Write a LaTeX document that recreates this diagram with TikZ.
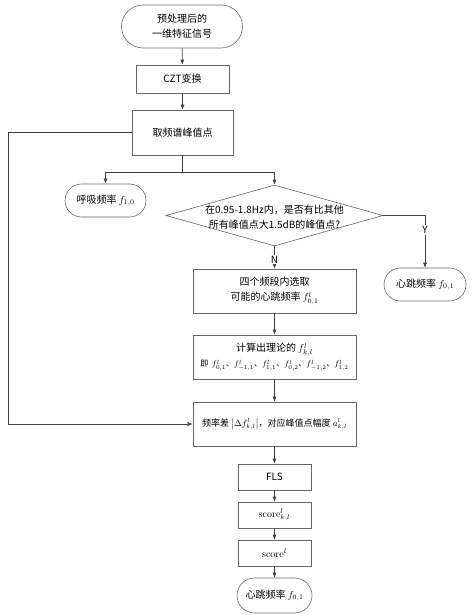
\documentclass[tikz,border=0pt]{standalone}
\usepackage{amsmath}
\usepackage{fontspec}
\newfontfamily\cjk{Noto Sans CJK SC}
\usetikzlibrary{shapes.misc,shapes.geometric,arrows.meta}

\begin{document}
\begin{tikzpicture}[x=1pt,y=-1pt,font=\cjk\fontsize{10}{15}\selectfont]
    \useasboundingbox (0,0) rectangle (474,615);

    \tikzstyle{box} = [draw=black!60, line width=0.6pt, inner sep=0pt, align=center]
    \tikzstyle{term} = [box, rounded rectangle]
    \tikzstyle{decision} = [box, diamond, minimum width=217pt, minimum height=61pt]
    \tikzstyle{line} = [draw=black!75, line width=0.6pt]
    \tikzstyle{arrow} = [line, -{Latex[length=5pt,width=4pt]}]

    \node[term, minimum width=121pt, minimum height=43pt] (start) at (182,26.5) {预处理后的\\一维特征信号};
    \node[box, minimum width=93pt, minimum height=28pt] (czt) at (182.5,79) {CZT变换};
    \node[box, minimum width=101pt, minimum height=45pt] (peak) at (182.5,132.5) {取频谱峰值点};
    \node[term, minimum width=81pt, minimum height=33pt] (resp) at (105.5,200.5) {呼吸频率 $f_{1,0}$};
    \node[decision] (dec) at (274.5,215.5) {};
    \node[align=center, inner sep=0pt] (dectxt) at (274.5,217) {在0.95-1.8Hz内，是否有比其他\\所有峰值点大1.5dB的峰值点?};
    \node[term, minimum width=82pt, minimum height=33pt] (heart1) at (425,284.5) {心跳频率 $f_{0,1}$};

    \node[box, minimum width=163pt, minimum height=44pt] (sel) at (274.5,291) {四个频段内选取\\可能的心跳频率 $f^{l}_{0,1}$};
    \node[box, minimum width=163pt, minimum height=44pt] (calc) at (274.5,357)
        {计算出理论的 $f^{l}_{k,l}$\\{\fontsize{8}{10}\selectfont 即\ \ $f^{l}_{0,1}$、$f^{l}_{-1,1}$、$f^{l}_{1,1}$、$f^{l}_{0,2}$、$f^{l}_{-1,2}$、$f^{l}_{1,2}$}};
    \node[box, minimum width=163pt, minimum height=44pt] (diff) at (274.5,424)
        {{\fontsize{9}{12}\selectfont 频率差 $\bigl|\Delta f^{l}_{k,l}\bigr|$，对应峰值点幅度 $a^{l}_{k,l}$}};
    \node[box, minimum width=73pt, minimum height=26pt] (fls) at (274.5,477) {FLS};
    \node[box, minimum width=73pt, minimum height=26pt] (sc1) at (274.5,515) {$\mathrm{score}^{l}_{k,l}$};
    \node[box, minimum width=73pt, minimum height=26pt] (sc2) at (274.5,553) {$\mathrm{score}^{l}$};
    \node[term, minimum width=75pt, minimum height=35pt] (stop) at (274.5,595.5) {心跳频率 $f_{0,1}$};

    \coordinate (br) at (182.5,172);
    \coordinate (fb) at (8,132.5);

    \draw[arrow] (start) -- (czt);
    \draw[arrow] (czt) -- (peak);
    \draw[line] (peak) -- (br);
    \draw[arrow] (br) -| (resp);
    \draw[arrow] (br) -| (dec);
    \draw[arrow] (dec.east) -| node[pos=0.64, fill=white, inner sep=1pt] {Y} (heart1);
    \draw[arrow] (dec.south) -- node[pos=0.6, fill=white, inner sep=1pt] {N} (sel);
    \draw[arrow] (sel) -- (calc);
    \draw[arrow] (calc) -- (diff);
    \draw[arrow] (peak.west) -- (fb) |- (diff.west);
    \draw[arrow] (diff) -- (fls);
    \draw[arrow] (fls) -- (sc1);
    \draw[arrow] (sc1) -- (sc2);
    \draw[arrow] (sc2) -- (stop);
\end{tikzpicture}
\end{document}
